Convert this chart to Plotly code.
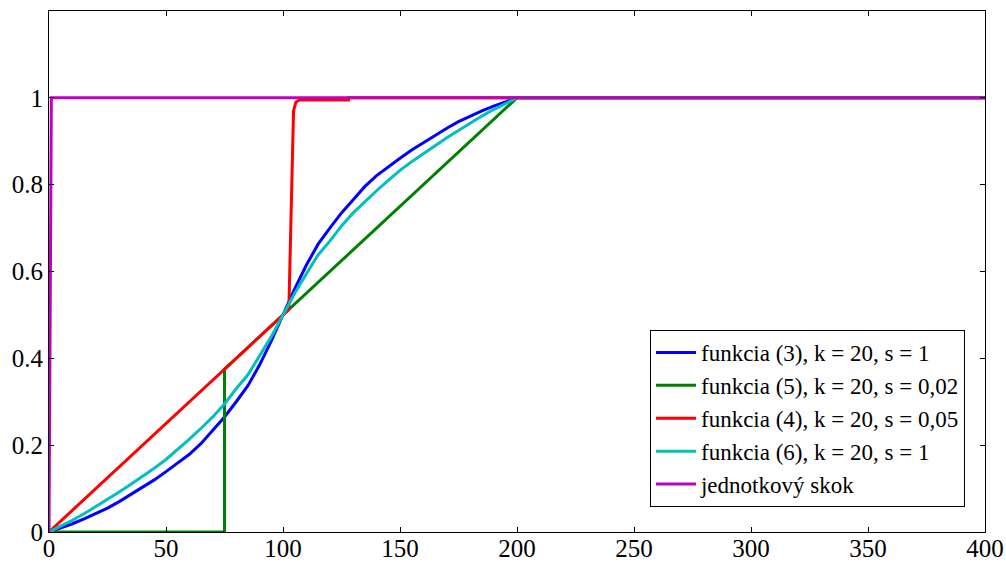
import plotly.graph_objects as go

# ---- data ----
x_s = [0, 5, 10, 15, 20, 25, 30, 35, 40, 45, 50, 55, 60, 65, 70, 75, 80, 85, 90, 95, 100,
       105, 110, 115, 120, 125, 130, 135, 140, 145, 150, 155, 160, 165, 170, 175, 180,
       185, 190, 195, 200, 400]
blue_y = [0, 0.009, 0.019, 0.03, 0.042, 0.055, 0.07, 0.086, 0.103, 0.12, 0.139, 0.158,
          0.179, 0.204, 0.235, 0.265, 0.30, 0.337, 0.385, 0.44, 0.5,
          0.56, 0.615, 0.663, 0.70, 0.735, 0.765, 0.796, 0.821, 0.842, 0.861, 0.88,
          0.897, 0.914, 0.93, 0.945, 0.958, 0.97, 0.981, 0.991, 1, 1]
cyan_y = [0, 0.013, 0.027, 0.042, 0.058, 0.075, 0.092, 0.11, 0.128, 0.147, 0.167, 0.19,
          0.214, 0.239, 0.265, 0.295, 0.33, 0.362, 0.405, 0.45, 0.5,
          0.55, 0.595, 0.638, 0.67, 0.705, 0.735, 0.761, 0.786, 0.81, 0.833, 0.853,
          0.872, 0.89, 0.908, 0.925, 0.942, 0.958, 0.973, 0.987, 1, 1]

green_x = [0, 75, 75, 200, 400]
green_y = [0, 0, 0.375, 1, 1]

red_x = [0, 102.5, 104.5, 105.5, 107, 128, 128, 400]
red_y = [0, 0.5125, 0.97, 0.99, 0.995, 0.995, 1, 1]

mag_x = [0, 1, 400]
mag_y = [0, 1, 1]

names = ["funkcia (3), k = 20, s = 1",
         "funkcia (5), k = 20, s = 0,02",
         "funkcia (4), k = 20, s = 0,05",
         "funkcia (6), k = 20, s = 1",
         "jednotkový skok"]
colors = ["#0000ff", "#008000", "#ff0000", "#00bfbf", "#bf00bf"]

x_ticks = [0, 50, 100, 150, 200, 250, 300, 350, 400]
y_ticks = [0, 0.2, 0.4, 0.6, 0.8, 1.0]
y_ticktext = ["0", "0.2", "0.4", "0.6", "0.8", "1"]

series = [(x_s, blue_y), (green_x, green_y), (red_x, red_y), (x_s, cyan_y), (mag_x, mag_y)]

fig = go.Figure()
for (xs, ys), n, c in zip(series, names, colors):
    fig.add_trace(go.Scatter(x=xs, y=ys, mode="lines", name=n,
                             line=dict(color=c, width=3)))

font = dict(family="Liberation Serif", size=25, color="black")
lfont = dict(family="Liberation Serif", size=23, color="black")
fig.update_layout(
    width=1006, height=563,
    margin=dict(l=49, r=21, t=11, b=31),
    paper_bgcolor="white", plot_bgcolor="white",
    font=font,
    showlegend=True,
    legend=dict(x=0.9786, y=0.048, xanchor="right", yanchor="bottom",
                bgcolor="white", bordercolor="black", borderwidth=1,
                font=lfont, tracegroupgap=0, itemwidth=40),
)
fig.update_xaxes(range=[0, 400], tickvals=x_ticks, ticks="inside", ticklen=5,
                 showline=True, linecolor="black", linewidth=1, mirror="ticks",
                 showgrid=False, zeroline=False, tickcolor="black",
                 tickfont=font, automargin=False, ticklabelstandoff=-6)
fig.update_yaxes(range=[0, 1.2], tickvals=y_ticks, ticktext=y_ticktext,
                 ticks="inside", ticklen=5,
                 showline=True, linecolor="black", linewidth=1, mirror="ticks",
                 showgrid=False, zeroline=False, tickcolor="black",
                 tickfont=font, automargin=False)

fig.write_html("out.html")
